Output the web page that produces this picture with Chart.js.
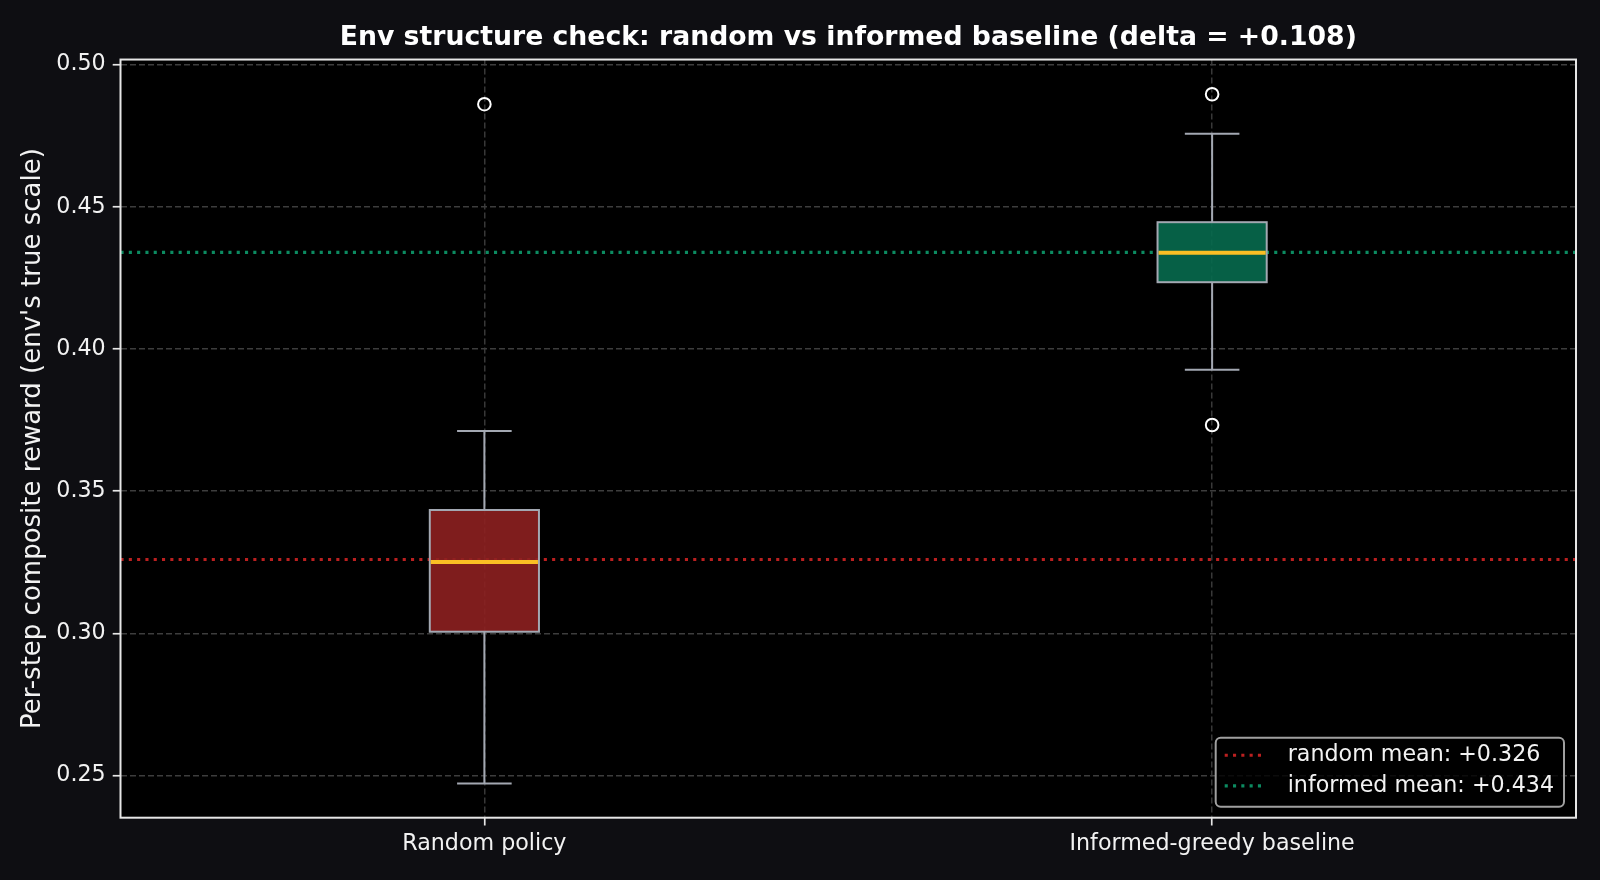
<!DOCTYPE html>
<html>
<head>
<meta charset="utf-8">
<script src="https://cdn.jsdelivr.net/npm/chart.js@4/dist/chart.umd.min.js"></script>
<style>
  html, body { margin: 0; padding: 0; background: #0e0e12; }
  canvas { display: block; }
</style>
</head>
<body>
<canvas id="chart" width="1600" height="880"></canvas>
<script>
// ---------- data ----------
const categories = ["Random policy", "Informed-greedy baseline"];
const whiskerLow = [0.2472, 0.3927];
const q1 = [0.3006, 0.4235];
const medians = [0.3251, 0.4339];
const q3 = [0.3434, 0.4446];
const whiskerHigh = [0.3712, 0.4757];
const outliers = [[0.4861], [0.4896, 0.3733]];
const means = [0.326, 0.434];
const meanNames = ["random", "informed"];
const yTicks = [0.25, 0.30, 0.35, 0.40, 0.45, 0.50];

const FONT = "'DejaVu Sans', sans-serif";
const TICK_SIZE = 22.2;
const boxFill = ["rgba(141, 32, 32, 0.9)", "rgba(7, 106, 78, 0.9)"];
const meanColor = ["rgba(220, 38, 38, 0.85)", "rgba(16, 185, 129, 0.75)"];
const edgeColor = "#a3a8b2";
const BOX_W = 0.15;

// ---------- plugins ----------
const plotBg = {
  id: "plotBg",
  beforeDraw(chart) {
    const { ctx, chartArea: a } = chart;
    ctx.save();
    ctx.fillStyle = "#000";
    ctx.fillRect(a.left, a.top, a.right - a.left, a.bottom - a.top);
    ctx.restore();
  }
};

// box + whiskers + median, placed through the chart's own scales
// (drawn after the mean lines so they sit under the semi-opaque boxes)
const boxes = {
  id: "boxes",
  afterDatasetsDraw(chart) {
    const { ctx, scales: { x, y } } = chart;
    ctx.save();
    categories.forEach((c, i) => {
      const pos = i + 1;
      const xl = x.getPixelForValue(pos - BOX_W / 2);
      const xr = x.getPixelForValue(pos + BOX_W / 2);
      const xc = x.getPixelForValue(pos);
      const capL = x.getPixelForValue(pos - BOX_W / 4);
      const capR = x.getPixelForValue(pos + BOX_W / 4);
      const yq1 = y.getPixelForValue(q1[i]);
      const yq3 = y.getPixelForValue(q3[i]);
      const ylo = y.getPixelForValue(whiskerLow[i]);
      const yhi = y.getPixelForValue(whiskerHigh[i]);
      const ymed = y.getPixelForValue(medians[i]);

      ctx.strokeStyle = edgeColor;
      ctx.lineWidth = 2;
      ctx.beginPath();
      ctx.moveTo(xc, yq1); ctx.lineTo(xc, ylo);
      ctx.moveTo(xc, yq3); ctx.lineTo(xc, yhi);
      ctx.moveTo(capL, ylo); ctx.lineTo(capR, ylo);
      ctx.moveTo(capL, yhi); ctx.lineTo(capR, yhi);
      ctx.stroke();

      ctx.fillStyle = boxFill[i];
      ctx.fillRect(xl, yq3, xr - xl, yq1 - yq3);
      ctx.strokeRect(xl, yq3, xr - xl, yq1 - yq3);

      ctx.strokeStyle = "#fbbf24";
      ctx.lineWidth = 4;
      ctx.beginPath();
      ctx.moveTo(xl + 1, ymed); ctx.lineTo(xr - 1, ymed);
      ctx.stroke();
    });
    ctx.restore();
  }
};

// spines + legend box in the lower right corner
const frame = {
  id: "frame",
  afterDraw(chart) {
    const { ctx, chartArea: a } = chart;
    ctx.save();
    ctx.strokeStyle = "#e6e6e6";
    ctx.lineWidth = 2;
    ctx.strokeRect(a.left, a.top, a.right - a.left, a.bottom - a.top);

    ctx.font = TICK_SIZE + "px " + FONT;
    const items = chart.data.datasets.filter(d => d.isMean);
    const textW = Math.max(...items.map(d => ctx.measureText(d.label).width));
    const right = a.right - 12, bottom = a.bottom - 11;
    const left = right - (72 + textW + 10);
    const top = bottom - 69;
    ctx.fillStyle = "rgba(0,0,0,0.8)";
    ctx.strokeStyle = "#a0a0a0";
    ctx.lineWidth = 2;
    ctx.beginPath();
    ctx.roundRect(left, top, right - left, bottom - top, 5);
    ctx.fill();
    ctx.stroke();

    items.forEach((d, k) => {
      const yy = top + 17.5 + k * 30.7;
      ctx.strokeStyle = d.borderColor;
      ctx.lineWidth = 3.1;
      ctx.setLineDash([3.1, 5.2]);
      ctx.beginPath();
      ctx.moveTo(left + 9, yy); ctx.lineTo(left + 50, yy);
      ctx.stroke();
      ctx.setLineDash([]);
      ctx.fillStyle = "#f2f2f2";
      ctx.textBaseline = "middle";
      ctx.fillText(d.label, left + 72, yy);
    });
    ctx.restore();
  }
};

// ---------- datasets ----------
const datasets = [];
means.forEach((m, i) => {
  datasets.push({
    label: meanNames[i] + " mean: +" + m.toFixed(3),
    isMean: true,
    data: [{ x: 0.5, y: m }, { x: 2.5, y: m }],
    showLine: true,
    borderColor: meanColor[i],
    borderWidth: 3.1,
    borderDash: [3.1, 5.2],
    borderCapStyle: "butt",
    pointRadius: 0
  });
});
datasets.push({
  label: "outliers",
  data: outliers.flatMap((arr, i) => arr.map(v => ({ x: i + 1, y: v }))),
  pointRadius: 6.3,
  pointBorderWidth: 2,
  pointBorderColor: "#ffffff",
  pointBackgroundColor: "rgba(0,0,0,0)",
  showLine: false
});

new Chart(document.getElementById("chart"), {
  type: "scatter",
  data: { datasets },
  plugins: [plotBg, boxes, frame],
  options: {
    responsive: false,
    devicePixelRatio: 1,
    animation: false,
    events: [],
    layout: { padding: { left: 0, right: 24, top: 0, bottom: 0 } },
    plugins: {
      legend: { display: false },
      tooltip: { enabled: false },
      title: {
        display: true,
        fullSize: false,
        text: "Env structure check: random vs informed baseline (delta = +0.108)",
        color: "#ffffff",
        font: { family: FONT, size: 26.7, weight: "bold" },
        padding: { top: 22, bottom: 5.5 }
      }
    },
    scales: {
      x: {
        type: "linear",
        min: 0.5,
        max: 2.5,
        afterBuildTicks: axis => { axis.ticks = [1, 2].map(v => ({ value: v })); },
        afterFit: s => { s.height = 62.3; },
        ticks: {
          color: "#f2f2f2",
          font: { family: FONT, size: TICK_SIZE },
          padding: 5,
          maxRotation: 0,
          callback: v => categories[v - 1]
        },
        grid: { color: "#383838", lineWidth: 1.5, tickColor: "#e6e6e6", tickLength: 7.8, tickWidth: 1.7 },
        border: { display: false, dash: [6, 3] }
      },
      y: {
        min: 0.2352,
        max: 0.5018,
        afterBuildTicks: axis => { axis.ticks = yTicks.map(v => ({ value: v })); },
        afterFit: s => { s.width = 120.5; },
        ticks: {
          color: "#f2f2f2",
          font: { family: FONT, size: TICK_SIZE },
          padding: 7,
          callback: v => v.toFixed(2)
        },
        grid: { color: "#3d3d3d", lineWidth: 1.5, tickColor: "#e6e6e6", tickLength: 7.8, tickWidth: 1.7 },
        border: { display: false, dash: [6, 3] },
        title: {
          display: true,
          text: "Per-step composite reward (env's true scale)",
          color: "#f2f2f2",
          font: { family: FONT, size: 26 },
          padding: { top: 18, bottom: 0 }
        }
      }
    }
  }
});
</script>
</body>
</html>
